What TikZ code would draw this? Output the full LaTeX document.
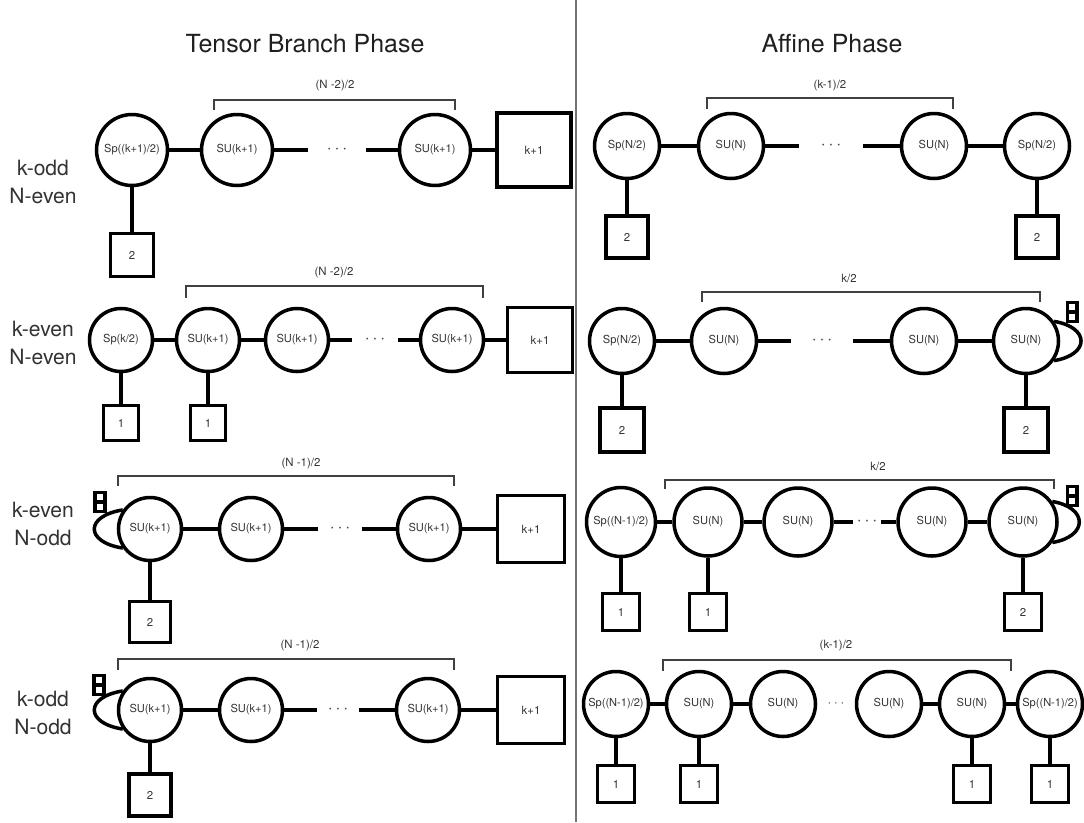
\documentclass[tikz,border=0pt]{standalone}
\usepackage{fontspec}
\setmainfont{TeX Gyre Heros}

\tikzset{
  gauge/.style={draw, circle, line width=2pt, minimum size=1.3cm, inner sep=0pt,
    text=black!80, font=\fontsize{6.3}{7}\selectfont},
  flavor/.style={draw, rectangle, line width=2pt, minimum size=0.8cm, inner sep=0pt,
    text=black!80, font=\fontsize{6.5}{7}\selectfont},
  link/.style={line width=2pt},
  brak/.style={draw, black!75, line width=0.7pt},
  blabel/.style={text=black!80, font=\fontsize{6.5}{7}\selectfont},
  dots/.style={inner sep=0pt, minimum height=0.3cm, text=black!70},
  anti/.style={draw, rectangle, line width=2pt, minimum width=0.19cm, minimum height=0.38cm,
    inner sep=0pt, path picture={\draw[line width=2pt] (path picture bounding box.west) -- (path picture bounding box.east);}},
  rowlabel/.style={align=center, text=black!80, font=\fontsize{12}{16}\selectfont},
  title/.style={text=black!88, font=\fontsize{14.2}{16}\selectfont},
}

\begin{document}
\begin{tikzpicture}[x=0.02cm, y=-0.02cm]
\useasboundingbox (0,0) rectangle (1084,822);

% separator and headings
\draw[black!55, line width=0.7pt] (576,0) -- (576,822);
\node[title] (ttl) at (305,44) {Tensor Branch Phase};
\node[title] (atl) at (832,44) {Affine Phase};

% row labels
\node[rowlabel] (lab1) at (43,182) {k-odd\\N-even};
\node[rowlabel] (lab2) at (43,343) {k-even\\N-even};
\node[rowlabel] (lab3) at (43,524) {k-even\\N-odd};
\node[rowlabel] (lab4) at (43,713) {k-odd\\N-odd};

%%% tensor branch, k-odd N-even
\node[gauge, minimum size=1.42cm] (t1sp) at (132,150) {Sp((k+1)/2)};
\node[gauge, minimum size=1.42cm] (t1su1) at (237,150) {SU(k+1)};
\node[dots, minimum width=1.14cm] (t1dots) at (337,150) {$\cdots$};
\node[gauge, minimum size=1.42cm] (t1su2) at (435,150) {SU(k+1)};
\node[flavor, minimum size=1.48cm] (t1fk) at (534,150) {k+1};
\node[flavor, minimum size=0.86cm] (t1f) at (132,255) {2};

\path[draw,link] (t1sp) -- (t1su1) -- (t1dots) -- (t1su2) -- (t1fk);
\path[draw,link] (t1sp) -- (t1f);
\draw[brak] (214,110) -- (214,100) -- (455,100) -- (455,110);
\node[blabel] (t1n) at (335,86) {(N -2)/2};

%%% tensor branch, k-even N-even
\node[gauge, minimum size=1.26cm] (t2sp) at (121,340) {Sp(k/2)};
\node[gauge, minimum size=1.26cm] (t2su1) at (208,340) {SU(k+1)};
\node[gauge, minimum size=1.26cm] (t2su2) at (297,340) {SU(k+1)};
\node[dots, minimum width=0.9cm] (t2dots) at (375,340) {$\cdots$};
\node[gauge, minimum size=1.26cm] (t2su3) at (452,340) {SU(k+1)};
\node[flavor, minimum size=1.3cm] (t2fk) at (540,340) {k+1};
\node[flavor, minimum size=0.7cm] (t2f1) at (121,423) {1};
\node[flavor, minimum size=0.7cm] (t2f2) at (208,423) {1};

\path[draw,link] (t2sp) -- (t2su1) -- (t2su2) -- (t2dots) -- (t2su3) -- (t2fk);
\path[draw,link] (t2sp) -- (t2f1);
\path[draw,link] (t2su1) -- (t2f2);
\draw[brak] (186,298) -- (186,286) -- (483,286) -- (483,298);
\node[blabel] (t2n) at (334,273) {(N -2)/2};

%%% tensor branch, k-even N-odd
\node[gauge, minimum size=1.26cm] (t3su1) at (150,529) {SU(k+1)};
\node[gauge, minimum size=1.26cm] (t3su2) at (251,529) {SU(k+1)};
\node[dots, minimum width=0.86cm] (t3dots) at (340,529) {$\cdots$};
\node[gauge, minimum size=1.26cm] (t3su3) at (429,529) {SU(k+1)};
\node[flavor, minimum size=1.34cm] (t3fk) at (531,529) {k+1};
\node[flavor, minimum size=0.82cm] (t3f) at (150,622) {2};
\node[anti] (t3as) at (100,502) {};

\path[draw,link] (t3su1) -- (t3su2) -- (t3dots) -- (t3su3) -- (t3fk);
\path[draw,link] (t3su1) -- (t3f);
\path[draw,link] (t3su1.145) .. controls +(-38,6) and +(-38,-6) .. (t3su1.215);
\draw[brak] (118,486) -- (118,476) -- (454,476) -- (454,486);
\node[blabel] (t3n) at (301,464) {(N -1)/2};

%%% tensor branch, k-odd N-odd
\node[gauge, minimum size=1.26cm] (t4su1) at (150,710) {SU(k+1)};
\node[gauge, minimum size=1.26cm] (t4su2) at (251,710) {SU(k+1)};
\node[dots, minimum width=0.84cm] (t4dots) at (338,710) {$\cdots$};
\node[gauge, minimum size=1.26cm] (t4su3) at (428,710) {SU(k+1)};
\node[flavor, minimum size=1.34cm] (t4fk) at (531,710) {k+1};
\node[flavor, minimum size=0.84cm] (t4f) at (150,795) {2};
\node[anti] (t4as) at (99,685) {};

\path[draw,link] (t4su1) -- (t4su2) -- (t4dots) -- (t4su3) -- (t4fk);
\path[draw,link] (t4su1) -- (t4f);
\path[draw,link] (t4su1.145) .. controls +(-38,6) and +(-38,-6) .. (t4su1.215);
\draw[brak] (118,670) -- (118,659) -- (454,659) -- (454,670);
\node[blabel] (t4n) at (300,646) {(N -1)/2};

%%% affine, k-odd N-even
\node[gauge] (a1sp1) at (627,146) {Sp(N/2)};
\node[gauge] (a1su1) at (731,146) {SU(N)};
\node[dots, minimum width=1.26cm] (a1dots) at (831,146) {$\cdots$};
\node[gauge] (a1su2) at (934,146) {SU(N)};
\node[gauge] (a1sp2) at (1037,146) {Sp(N/2)};
\node[flavor, minimum size=0.84cm] (a1f1) at (627,237) {2};
\node[flavor, minimum size=0.84cm] (a1f2) at (1037,237) {2};

\path[draw,link] (a1sp1) -- (a1su1) -- (a1dots) -- (a1su2) -- (a1sp2);
\path[draw,link] (a1sp1) -- (a1f1);
\path[draw,link] (a1sp2) -- (a1f2);
\draw[brak] (707,109) -- (707,98) -- (953,98) -- (953,109);
\node[blabel] (a1n) at (830,86) {(k-1)/2};

%%% affine, k-even N-even
\node[gauge] (a2sp) at (622,341) {Sp(N/2)};
\node[gauge] (a2su1) at (724,341) {SU(N)};
\node[dots, minimum width=1.22cm] (a2dots) at (822,341) {$\cdots$};
\node[gauge] (a2su2) at (924,341) {SU(N)};
\node[gauge] (a2su3) at (1026,341) {SU(N)};
\node[flavor, minimum size=0.88cm] (a2f1) at (622,430) {2};
\node[flavor, minimum size=0.88cm] (a2f2) at (1026,430) {2};
\node[anti] (a2as) at (1072,312) {};

\path[draw,link] (a2sp) -- (a2su1) -- (a2dots) -- (a2su2) -- (a2su3);
\path[draw,link] (a2sp) -- (a2f1);
\path[draw,link] (a2su3) -- (a2f2);
\path[draw,link] (a2su3.35) .. controls +(36,6) and +(36,-6) .. (a2su3.325);
\draw[brak] (702,302) -- (702,292) -- (1040,292) -- (1040,302);
\node[blabel] (a2n) at (849,278) {k/2};

%%% affine, k-even N-odd
\node[gauge, minimum size=1.38cm] (a3sp) at (621,522) {Sp((N-1)/2)};
\node[gauge, minimum size=1.36cm] (a3su1) at (708,522) {SU(N)};
\node[gauge, minimum size=1.36cm] (a3su2) at (798,522) {SU(N)};
\node[dots, minimum width=0.56cm] (a3dots) at (867,522) {$\cdots$};
\node[gauge, minimum size=1.36cm] (a3su3) at (932,522) {SU(N)};
\node[gauge, minimum size=1.36cm] (a3su4) at (1023,522) {SU(N)};
\node[flavor, minimum size=0.74cm] (a3f1) at (621,612) {1};
\node[flavor, minimum size=0.74cm] (a3f2) at (708,612) {1};
\node[flavor, minimum size=0.74cm] (a3f3) at (1023,612) {2};
\node[anti] (a3as) at (1072,496) {};

\path[draw,link] (a3sp) -- (a3su1) -- (a3su2) -- (a3dots) -- (a3su3) -- (a3su4);
\path[draw,link] (a3sp) -- (a3f1);
\path[draw,link] (a3su1) -- (a3f2);
\path[draw,link] (a3su4) -- (a3f3);
\path[draw,link] (a3su4.35) .. controls +(36,6) and +(36,-6) .. (a3su4.325);
\draw[brak] (665,489) -- (665,480) -- (1054,480) -- (1054,489);
\node[blabel] (a3n) at (878,466) {k/2};

%%% affine, k-odd N-odd
\begin{scope}[every node/.append style={font=\fontsize{7.3}{8}\selectfont}]
\node[gauge] (a4sp1) at (616,704) {Sp((N-1)/2)};
\node[gauge] (a4su1) at (699,704) {SU(N)};
\node[gauge] (a4su2) at (783,704) {SU(N)};
\node[dots] (a4dots) at (836,704) {$\cdots$};
\node[gauge] (a4su3) at (889,704) {SU(N)};
\node[gauge] (a4su4) at (972,704) {SU(N)};
\node[gauge] (a4sp2) at (1050,704) {Sp((N-1)/2)};
\end{scope}
\node[flavor, minimum size=0.74cm] (a4f1) at (616,784) {1};
\node[flavor, minimum size=0.74cm] (a4f2) at (699,784) {1};
\node[flavor, minimum size=0.74cm] (a4f3) at (972,784) {1};
\node[flavor, minimum size=0.74cm] (a4f4) at (1050,784) {1};

\path[draw,link] (a4sp1) -- (a4su1) -- (a4su2);
\path[draw,link] (a4su3) -- (a4su4) -- (a4sp2);
\path[draw,link] (a4sp1) -- (a4f1);
\path[draw,link] (a4su1) -- (a4f2);
\path[draw,link] (a4su4) -- (a4f3);
\path[draw,link] (a4sp2) -- (a4f4);
\draw[brak] (663,671) -- (663,660) -- (1011,660) -- (1011,671);
\node[blabel] (a4n) at (836,646) {(k-1)/2};
\end{tikzpicture}
\end{document}
